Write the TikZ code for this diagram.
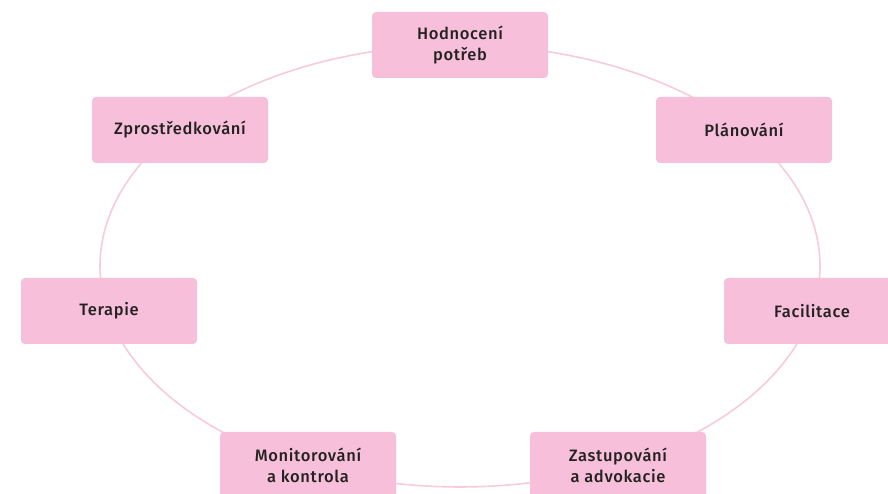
\documentclass[tikz,border=0pt]{standalone}
\usepackage{fontspec}
\setmainfont{Fira Sans}[UprightFont=* Medium, LetterSpace=4]
\usetikzlibrary{backgrounds,calc}
\definecolor{boxfill}{HTML}{F7BFD9}
\definecolor{ringcol}{HTML}{F7CADD}
\definecolor{txt}{HTML}{222222}
\tikzset{
  stepbox/.style={fill=boxfill, rounded corners=4pt, minimum width=176pt, minimum height=66pt,
    inner sep=0pt, align=center, text=txt, font=\fontsize{16.5}{21}\selectfont},
  ring/.style={draw=ringcol, line width=1.6pt}
}
\begin{document}
\begin{tikzpicture}[x=1pt,y=1pt]
\useasboundingbox (0,0) rectangle (888,494);
\coordinate (c) at (460,228);
\node[stepbox] (n1) at (460,449) {Hodnocení\\potřeb};
\node[stepbox] (n2) at (744,364) {Plánování};
\node[stepbox] (n3) at (812,183) {Facilitace};
\node[stepbox] (n4) at (618,29) {Zastupování\\a advokacie};
\node[stepbox] (n5) at (308,29) {Monitorování\\a kontrola};
\node[stepbox] (n6) at (109,183) {Terapie};
\node[stepbox] (n7) at (180,364) {Zprostředkování};
\coordinate (e1) at ($(c)+(90:360 and 221)$);
\coordinate (e2) at ($(c)+(38.571:360 and 221)$);
\coordinate (e3) at ($(c)+(-12.857:360 and 221)$);
\coordinate (e4) at ($(c)+(-64.286:360 and 221)$);
\coordinate (e5) at ($(c)+(-115.714:360 and 221)$);
\coordinate (e6) at ($(c)+(-167.143:360 and 221)$);
\coordinate (e7) at ($(c)+(141.429:360 and 221)$);
\begin{scope}[on background layer]
\draw[ring] (e1) arc[start angle=90, end angle=38.571, x radius=360pt, y radius=221pt];
\draw[ring] (e2) arc[start angle=38.571, end angle=-12.857, x radius=360pt, y radius=221pt];
\draw[ring] (e3) arc[start angle=-12.857, end angle=-64.286, x radius=360pt, y radius=221pt];
\draw[ring] (e4) arc[start angle=-64.286, end angle=-115.714, x radius=360pt, y radius=221pt];
\draw[ring] (e5) arc[start angle=-115.714, end angle=-167.143, x radius=360pt, y radius=221pt];
\draw[ring] (e6) arc[start angle=-167.143, end angle=-218.571, x radius=360pt, y radius=221pt];
\draw[ring] (e7) arc[start angle=141.429, end angle=90, x radius=360pt, y radius=221pt];
\end{scope}
\end{tikzpicture}
\end{document}
